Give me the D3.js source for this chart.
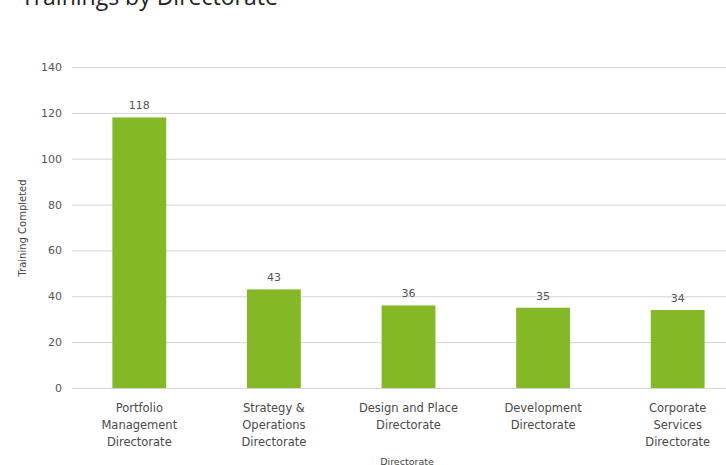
<!DOCTYPE html>
<html>
<head>
<meta charset="utf-8">
<script src="https://d3js.org/d3.v7.min.js"></script>
<style>
  body { margin: 0; background: #fff; overflow: hidden; }
  svg { display: block; }
</style>
</head>
<body>
<div id="chart"></div>
<script>
// chart data
var directorates = [
  ["Portfolio", "Management", "Directorate"],
  ["Strategy &", "Operations", "Directorate"],
  ["Design and Place", "Directorate"],
  ["Development", "Directorate"],
  ["Corporate", "Services", "Directorate"]
];
var trainings = [118, 43, 36, 35, 34];
var yTicks = [0, 20, 40, 60, 80, 100, 120, 140];

var svgWidth = 726;
var svgHeight = 465;

var svg = d3.select("#chart")
  .append("svg")
  .attr("width", svgWidth)
  .attr("height", svgHeight);

var idx = d3.range(trainings.length);

// band scale runs a bit past the right edge, like the original
var x = d3.scaleBand()
  .domain(idx)
  .range([72, 745])
  .paddingInner(0.6)
  .paddingOuter(0.3);

var y = d3.scaleLinear()
  .domain([0, 140])
  .range([388, 67]);

// title (clipped at the top)
svg.append("text")
  .attr("x", 21)
  .attr("y", 5)
  .attr("font-family", "Open Sans, sans-serif")
  .attr("font-size", 23)
  .attr("fill", "#222")
  .text("Trainings by Directorate");

// grid lines + y tick labels
var yAxis = d3.axisLeft(y)
  .tickValues(yTicks)
  .tickSize(-(svgWidth - 72))
  .tickPadding(10);

var gy = svg.append("g")
  .attr("transform", "translate(72,0)")
  .call(yAxis);
gy.select(".domain").remove();
gy.selectAll(".tick line")
  .attr("stroke", "#d4d4d4");
gy.selectAll(".tick text")
  .attr("font-family", "DejaVu Sans, Verdana, sans-serif")
  .attr("font-size", 11)
  .attr("fill", "#555");

// bars
svg.selectAll(".bar")
  .data(trainings)
  .enter()
  .append("rect")
  .attr("class", "bar")
  .attr("x", (d, i) => x(i))
  .attr("y", d => y(d))
  .attr("width", x.bandwidth())
  .attr("height", d => y(0) - y(d))
  .attr("fill", "#84b826");

// value labels
svg.selectAll(".val")
  .data(trainings)
  .enter()
  .append("text")
  .attr("class", "val")
  .attr("x", (d, i) => x(i) + x.bandwidth() / 2)
  .attr("y", d => y(d) - 8)
  .attr("text-anchor", "middle")
  .attr("font-family", "DejaVu Sans, Verdana, sans-serif")
  .attr("font-size", 11)
  .attr("fill", "#555")
  .text(d => d);

// category labels, one tspan per line
var cats = svg.selectAll(".cat")
  .data(directorates)
  .enter()
  .append("text")
  .attr("class", "cat")
  .attr("text-anchor", "middle")
  .attr("font-family", "DejaVu Sans, Verdana, sans-serif")
  .attr("font-size", 11.5)
  .attr("fill", "#4a4a4a");
cats.each(function(lines, i) {
  var t = d3.select(this);
  var cx = x(i) + x.bandwidth() / 2;
  lines.forEach(function(line, k) {
    t.append("tspan")
      .attr("x", cx)
      .attr("y", 412 + k * 17)
      .text(line);
  });
});

// axis titles
svg.append("text")
  .attr("x", 407)
  .attr("y", 465)
  .attr("text-anchor", "middle")
  .attr("font-family", "DejaVu Sans, Verdana, sans-serif")
  .attr("font-size", 9.5)
  .attr("fill", "#444")
  .text("Directorate");

svg.append("text")
  .attr("transform", "translate(26,228) rotate(-90)")
  .attr("text-anchor", "middle")
  .attr("font-family", "DejaVu Sans, Verdana, sans-serif")
  .attr("font-size", 10)
  .attr("fill", "#444")
  .text("Training Completed");
</script>
</body>
</html>
